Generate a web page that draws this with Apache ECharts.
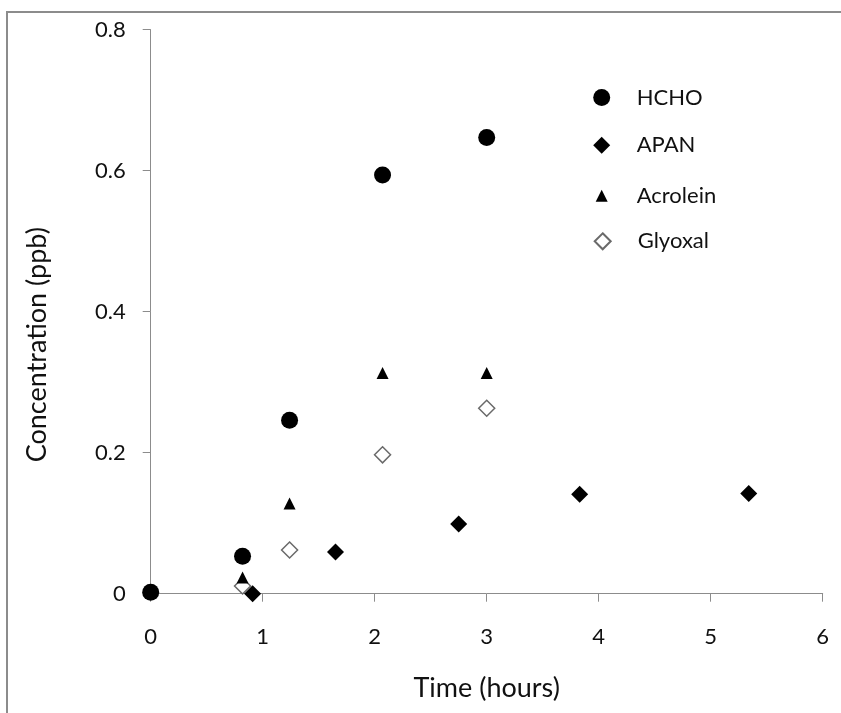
<!DOCTYPE html>
<html>
<head>
<meta charset="utf-8">
<script src="https://cdn.jsdelivr.net/npm/echarts@6/dist/echarts.min.js"></script>
<style>
html,body{margin:0;padding:0;background:#fff;}
#c{width:841px;height:713px;}
</style>
</head>
<body>
<div id="c"></div>
<script>
// Data (Time in hours, Concentration in ppb)
var seriesNames = ['HCHO', 'APAN', 'Acrolein', 'Glyoxal'];
var hchoX = [0, 0.82, 1.24, 2.07, 3.0];
var hchoY = [0.002, 0.053, 0.246, 0.594, 0.647];
var apanX = [0.91, 1.65, 2.75, 3.83, 5.34];
var apanY = [0.0, 0.059, 0.099, 0.141, 0.142];
var acroleinX = [0.82, 1.24, 2.07, 3.0];
var acroleinY = [0.023, 0.128, 0.313, 0.313];
var glyoxalX = [0.82, 1.24, 2.07, 3.0];
var glyoxalY = [0.011, 0.062, 0.197, 0.263];
var xTicks = [0, 1, 2, 3, 4, 5, 6];
var yTicks = [0, 0.2, 0.4, 0.6, 0.8];

function pairs(xs, ys) { return xs.map(function (x, i) { return [x, ys[i]]; }); }

var FONT = 'Lato';
var TXT = '#111';
var chart = echarts.init(document.getElementById('c'), null, {renderer: 'canvas'});

function legendFor(name, w, h, cy) {
  var cx = 601.7, textX = 636.7;
  var left = cx - w / 2;
  return {
    data: [name], orient: 'vertical', left: left, top: cy - h / 2,
    itemWidth: w, itemHeight: h, itemGap: 0, padding: 0,
    selectedMode: false,
    textStyle: {fontFamily: FONT, fontSize: 22, color: TXT,
      padding: [0, 0, 0, textX - (left + w) - 5]}
  };
}

var option = {
  animation: false,
  backgroundColor: '#fff',
  textStyle: {fontFamily: FONT},
  graphic: [{
    type: 'rect', silent: true, z: -1,
    shape: {x: 7, y: 12, width: 900, height: 800},
    style: {fill: null, stroke: '#8c8c8c', lineWidth: 2}
  }],
  legend: [
    legendFor('HCHO', 17, 17, 95),
    legendFor('APAN', 17, 17, 142.7),
    legendFor('Acrolein', 12, 12, 190.7),
    legendFor('Glyoxal', 16, 16, 238.3)
  ],
  grid: {left: 150.7, right: 18.3, top: 29.7, bottom: 119.3, containLabel: false},
  xAxis: {
    type: 'value', min: xTicks[0], max: xTicks[xTicks.length - 1], interval: 1,
    name: 'Time (hours)', nameLocation: 'middle', nameGap: 81,
    nameTextStyle: {fontFamily: FONT, fontSize: 27, color: TXT},
    axisLine: {show: true, lineStyle: {color: '#8c8c8c', width: 1}},
    axisTick: {show: true, inside: false, length: 8, lineStyle: {color: '#8c8c8c'}},
    axisLabel: {fontFamily: FONT, fontSize: 22, color: TXT, margin: 32},
    splitLine: {show: false}
  },
  yAxis: {
    type: 'value', min: yTicks[0], max: yTicks[yTicks.length - 1], interval: 0.2,
    name: 'Concentration (ppb)', nameLocation: 'middle', nameGap: 100,
    nameTextStyle: {fontFamily: FONT, fontSize: 27, color: TXT, padding: [0, 66, 0, 0]},
    axisLine: {show: true, lineStyle: {color: '#8c8c8c', width: 1}},
    axisTick: {show: true, inside: false, length: 8, lineStyle: {color: '#8c8c8c'}},
    axisLabel: {fontFamily: FONT, fontSize: 22, color: TXT, margin: 25},
    splitLine: {show: false}
  },
  series: [
    {name: seriesNames[3], type: 'scatter', data: pairs(glyoxalX, glyoxalY), symbol: 'diamond', symbolSize: 16, z: 2,
      itemStyle: {color: '#fff', borderColor: '#6a6a6a', borderWidth: 1.5, opacity: 1}},
    {name: seriesNames[0], type: 'scatter', data: pairs(hchoX, hchoY), symbol: 'circle', symbolSize: 17, z: 3,
      itemStyle: {color: '#000', opacity: 1}},
    {name: seriesNames[1], type: 'scatter', data: pairs(apanX, apanY), symbol: 'diamond', symbolSize: 17, z: 4,
      itemStyle: {color: '#000', opacity: 1}},
    {name: seriesNames[2], type: 'scatter', data: pairs(acroleinX, acroleinY), symbol: 'triangle', symbolSize: 12, z: 5,
      itemStyle: {color: '#000', opacity: 1}}
  ]
};
chart.setOption(option);
</script>
</body>
</html>
